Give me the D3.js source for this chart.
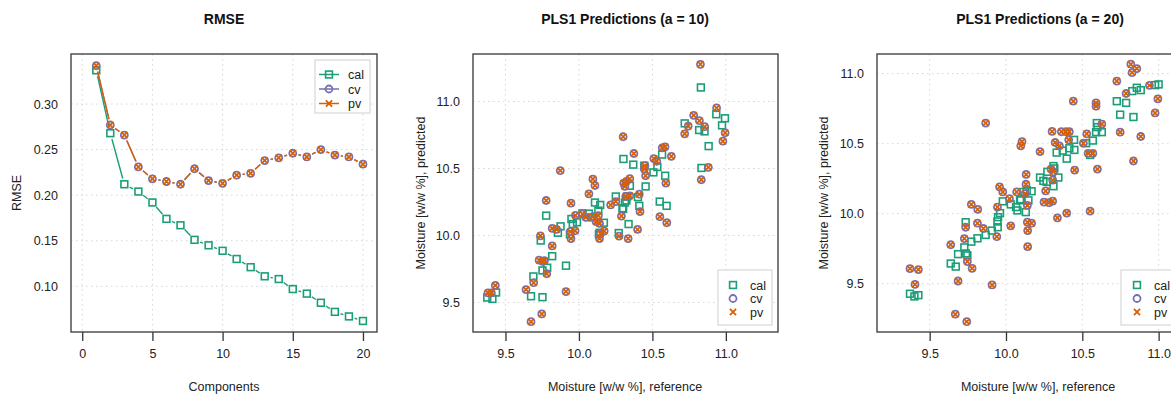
<!DOCTYPE html>
<html>
<head>
<meta charset="utf-8">
<script src="https://cdn.jsdelivr.net/npm/d3@7"></script>
<style>
  body { margin: 0; background: #fff; }
  svg { display: block; }
  text { font-family: "Liberation Sans", Arial, Helvetica, sans-serif; }
</style>
</head>
<body>
<svg id="fig" width="1171" height="395"></svg>
<script>
// ---- RMSE vs number of components ----
const components = [1, 2, 3, 4, 5, 6, 7, 8, 9, 10, 11, 12, 13, 14, 15, 16, 17, 18, 19, 20];
const calRmse = [0.337, 0.268, 0.212, 0.204, 0.192, 0.174, 0.167, 0.151, 0.145, 0.139,
                 0.130, 0.121, 0.111, 0.108, 0.097, 0.092, 0.082, 0.072, 0.067, 0.062];
const cvRmse  = [0.342, 0.277, 0.266, 0.231, 0.218, 0.215, 0.212, 0.229, 0.216, 0.213,
                 0.222, 0.224, 0.238, 0.241, 0.246, 0.242, 0.250, 0.244, 0.242, 0.234];
const pvRmse  = [0.342, 0.277, 0.266, 0.231, 0.218, 0.215, 0.212, 0.229, 0.216, 0.213,
                 0.222, 0.224, 0.238, 0.241, 0.246, 0.242, 0.250, 0.244, 0.242, 0.234];

// ---- predictions, 10 components: [reference, predicted] ----
const cal10 = [
  [9.376, 9.536], [9.411, 9.526], [9.436, 9.574], [9.674, 9.546], [9.690, 9.694], [9.752, 9.539],
  [9.740, 9.962], [9.752, 9.739], [9.784, 9.759], [9.777, 10.148], [9.818, 9.845], [9.857, 10.020],
  [9.875, 10.068], [9.912, 9.774], [9.939, 10.008], [9.949, 10.123], [9.958, 10.085], [9.987, 10.098],
  [10.024, 10.165], [10.068, 10.163], [10.088, 10.135], [10.109, 10.246], [10.132, 10.185], [10.145, 10.228],
  [10.141, 10.020], [10.170, 10.095], [10.136, 10.008], [10.251, 10.291], [10.271, 10.018], [10.303, 10.571],
  [10.296, 10.203], [10.313, 10.246], [10.328, 10.291], [10.338, 10.085], [10.347, 10.371], [10.370, 10.529],
  [10.402, 10.286], [10.411, 10.221], [10.454, 10.366], [10.445, 10.521], [10.507, 10.471], [10.534, 10.511],
  [10.566, 10.604], [10.587, 10.446], [10.550, 10.253], [10.597, 10.221], [10.323, 10.261], [10.301, 10.198],
  [10.720, 10.837], [10.818, 10.787], [10.855, 10.777], [10.883, 10.667], [10.830, 11.105], [10.834, 10.504],
  [10.935, 10.905], [10.974, 10.822], [10.994, 10.875]
];
const pv10 = [
  [9.381, 9.571], [9.404, 9.571], [9.431, 9.627], [9.640, 9.596], [9.692, 9.647], [9.674, 9.356],
  [9.738, 9.997], [9.729, 9.815], [9.752, 9.807], [9.747, 9.414], [9.777, 10.261], [9.781, 9.714],
  [9.765, 9.812], [9.818, 10.053], [9.818, 9.922], [9.848, 10.045], [9.873, 10.484], [9.912, 9.581],
  [9.946, 10.241], [9.941, 10.028], [9.946, 9.977], [9.974, 10.035], [9.976, 10.150], [10.024, 10.160],
  [10.047, 10.135], [10.068, 10.311], [10.095, 10.421], [10.109, 10.373], [10.095, 10.140], [10.117, 10.103],
  [10.140, 10.090], [10.140, 9.977], [10.146, 10.015], [10.132, 10.148], [10.172, 10.033], [10.216, 10.228],
  [10.251, 10.253], [10.273, 9.995], [10.289, 10.145], [10.301, 10.737], [10.305, 10.391], [10.313, 10.366],
  [10.324, 10.404], [10.319, 10.291], [10.335, 9.977], [10.346, 10.424], [10.346, 10.296], [10.374, 10.612],
  [10.399, 10.045], [10.411, 10.308], [10.416, 10.178], [10.445, 10.496], [10.454, 10.446], [10.449, 10.521],
  [10.510, 10.574], [10.530, 10.554], [10.551, 10.140], [10.567, 10.654], [10.586, 10.662], [10.592, 10.391],
  [10.598, 10.095], [10.629, 10.591], [10.720, 10.759], [10.744, 10.817], [10.781, 10.897], [10.820, 10.857],
  [10.827, 11.278], [10.833, 10.416], [10.856, 10.812], [10.881, 10.509], [10.937, 10.952], [10.980, 10.704],
  [10.995, 10.767]
];
const cv10 = pv10;

// ---- predictions, 20 components: [reference, predicted] ----
const cal20 = [
  [9.371, 9.428], [9.400, 9.409], [9.426, 9.418], [9.638, 9.644], [9.671, 9.622], [9.686, 9.711],
  [9.727, 9.759], [9.738, 9.716], [9.747, 9.702], [9.773, 9.800], [9.813, 9.824], [9.736, 9.939],
  [9.867, 9.848], [9.907, 9.879], [9.944, 9.944], [9.946, 9.903], [9.948, 9.975], [9.961, 10.004],
  [9.979, 10.088], [10.031, 10.066], [10.066, 10.047], [10.075, 10.023], [10.097, 10.102], [10.114, 10.155],
  [10.130, 10.011], [10.092, 10.095], [10.136, 10.167], [10.147, 10.095], [10.168, 10.160], [10.223, 10.258],
  [10.245, 10.234], [10.271, 10.299], [10.266, 10.227], [10.311, 10.340], [10.317, 10.323], [10.311, 10.196],
  [10.343, 10.258], [10.332, 10.436], [10.372, 10.450], [10.398, 10.393], [10.415, 10.467], [10.448, 10.455],
  [10.446, 10.527], [10.525, 10.503], [10.551, 10.419], [10.569, 10.522], [10.595, 10.647], [10.599, 10.618],
  [10.590, 10.582], [10.628, 10.582], [10.726, 10.803], [10.787, 10.791], [10.748, 10.707], [10.835, 10.690],
  [10.827, 10.875], [10.857, 10.899], [10.883, 10.882], [10.977, 10.918], [11.000, 10.923]
];
const pv20 = [
  [9.371, 9.608], [9.426, 9.601], [9.404, 9.495], [9.668, 9.282], [9.743, 9.229], [9.686, 9.519],
  [9.909, 9.491], [9.867, 10.647], [9.638, 9.778], [9.727, 9.822], [9.736, 9.903], [9.747, 9.658],
  [9.778, 9.610], [9.773, 10.066], [9.815, 10.030], [9.813, 9.932], [9.852, 9.894], [9.940, 9.836],
  [9.944, 10.047], [9.958, 10.191], [9.979, 10.155], [10.023, 10.107], [10.031, 9.913], [10.070, 10.155],
  [10.097, 10.484], [10.105, 10.515], [10.132, 10.280], [10.131, 10.210], [10.125, 10.143], [10.140, 10.059],
  [10.140, 9.939], [10.168, 9.932], [10.142, 9.879], [10.142, 9.764], [10.223, 10.443], [10.260, 10.162],
  [10.249, 10.083], [10.282, 10.078], [10.306, 10.090], [10.337, 9.970], [10.398, 10.004], [10.302, 10.587],
  [10.363, 10.585], [10.393, 10.585], [10.415, 10.585], [10.322, 10.508], [10.350, 10.484], [10.295, 10.318],
  [10.306, 10.239], [10.311, 10.299], [10.411, 10.527], [10.441, 10.803], [10.450, 10.311], [10.507, 10.503],
  [10.529, 10.570], [10.538, 10.431], [10.569, 10.431], [10.551, 10.018], [10.590, 10.791], [10.590, 10.767],
  [10.628, 10.640], [10.599, 10.318], [10.726, 10.947], [10.748, 10.582], [10.787, 10.858], [10.818, 11.067],
  [10.857, 11.036], [10.826, 11.007], [10.883, 10.551], [10.835, 10.376], [10.940, 10.916], [10.995, 10.820],
  [10.977, 10.719]
];
const cv20 = pv20;

// ---- axis ticks and labels ----
const rmseXTicks = [0, 5, 10, 15, 20];
const rmseYTicks = [0.10, 0.15, 0.20, 0.25, 0.30];
const moistTicks = [9.5, 10.0, 10.5, 11.0];
const seriesNames = ["cal", "cv", "pv"];

const COL = { cal: "#1B9E77", cv: "#7570B3", pv: "#D95F02" };

const svg = d3.select("#fig");

// marker glyphs
function markSquare(g, x, y) {
  g.append("rect").attr("x", x - 3.4).attr("y", y - 3.4).attr("width", 6.8).attr("height", 6.8)
    .attr("fill", "none").attr("stroke", COL.cal).attr("stroke-width", 1.6);
}
function markCircle(g, x, y) {
  g.append("circle").attr("cx", x).attr("cy", y).attr("r", 3.5)
    .attr("fill", "none").attr("stroke", COL.cv).attr("stroke-width", 1.8);
}
function markCross(g, x, y) {
  const s = 3.1;
  g.append("path").attr("d", `M${x - s},${y - s}L${x + s},${y + s}M${x - s},${y + s}L${x + s},${y - s}`)
    .attr("stroke", COL.pv).attr("stroke-width", 1.8).attr("fill", "none");
}
const markers = { cal: markSquare, cv: markCircle, pv: markCross };

// frame, grid, axes and titles of one panel
function panel(o) {
  const x = d3.scaleLinear().domain(o.xDomain).range([o.left, o.left + o.width]);
  const y = d3.scaleLinear().domain(o.yDomain).range([o.top + o.height, o.top]);
  const g = svg.append("g");

  // dotted grid
  g.selectAll(null).data(o.xTicks).join("line")
    .attr("x1", d => x(d)).attr("x2", d => x(d)).attr("y1", o.top).attr("y2", o.top + o.height)
    .attr("stroke", "#d6d6d6").attr("stroke-dasharray", "1.5,3.5").attr("stroke-width", 1);
  g.selectAll(null).data(o.yTicks).join("line")
    .attr("y1", d => y(d)).attr("y2", d => y(d)).attr("x1", o.left).attr("x2", o.left + o.width)
    .attr("stroke", "#d6d6d6").attr("stroke-dasharray", "1.5,3.5").attr("stroke-width", 1);

  // axes
  const ax = g.append("g").attr("transform", `translate(0,${o.top + o.height})`)
    .call(d3.axisBottom(x).tickValues(o.xTicks).tickFormat(o.xFmt).tickSize(9).tickSizeOuter(0).tickPadding(8));
  const ay = g.append("g").attr("transform", `translate(${o.left},0)`)
    .call(d3.axisLeft(y).tickValues(o.yTicks).tickFormat(o.yFmt).tickSize(0).tickSizeOuter(0).tickPadding(13));
  [ax, ay].forEach(a => {
    a.select(".domain").remove();
    a.selectAll("line").attr("stroke", "#333").attr("stroke-width", 1.3);
    a.selectAll("text").attr("font-size", 12.5).attr("fill", "#222")
      .attr("font-family", '"Liberation Sans", Arial, sans-serif');
  });

  // box
  g.append("rect").attr("x", o.left).attr("y", o.top).attr("width", o.width).attr("height", o.height)
    .attr("fill", "none").attr("stroke", "#444").attr("stroke-width", 1.4);

  // titles
  g.append("text").attr("x", o.titleX).attr("y", 24).attr("text-anchor", "middle")
    .attr("font-size", 14).attr("font-weight", "bold").attr("fill", "#111").text(o.title);
  g.append("text").attr("x", o.xLabelX).attr("y", 391).attr("text-anchor", "middle")
    .attr("font-size", 12.5).attr("fill", "#222").text(o.xLabel);
  g.append("text").attr("transform", `translate(${o.yLabelX},${o.top + o.height / 2}) rotate(-90)`)
    .attr("text-anchor", "middle").attr("font-size", 12.5).attr("fill", "#222").text(o.yLabel);

  const clipId = "clip" + Math.round(o.left);
  svg.append("clipPath").attr("id", clipId).append("rect")
    .attr("x", o.left).attr("y", o.top).attr("width", o.width).attr("height", o.height);
  const plot = svg.append("g").attr("clip-path", `url(#${clipId})`);
  return { x, y, plot, g };
}

// connecting line that stops short of each marker
function gappedLine(g, pts, color, gap) {
  for (let i = 1; i < pts.length; i++) {
    const [x1, y1] = pts[i - 1], [x2, y2] = pts[i];
    const L = Math.hypot(x2 - x1, y2 - y1);
    if (L <= 2 * gap) continue;
    const ux = (x2 - x1) / L, uy = (y2 - y1) / L;
    g.append("line")
      .attr("x1", x1 + ux * gap).attr("y1", y1 + uy * gap)
      .attr("x2", x2 - ux * gap).attr("y2", y2 - uy * gap)
      .attr("stroke", color).attr("stroke-width", 1.4);
  }
}

function legend(g, o) {
  g.append("rect").attr("x", o.x).attr("y", o.y).attr("width", o.w).attr("height", o.h)
    .attr("fill", "#fff").attr("stroke", "#cfcfcf").attr("stroke-width", 1);
  seriesNames.forEach((name, i) => {
    const cy = o.y + o.first + i * o.step;
    if (o.lines) {
      g.append("line").attr("x1", o.mx - 10).attr("x2", o.mx + 10).attr("y1", cy).attr("y2", cy)
        .attr("stroke", COL[name]).attr("stroke-width", 1.5);
    }
    markers[name](g, o.mx, cy);
    g.append("text").attr("x", o.tx).attr("y", cy + 4.5).attr("font-size", 12.5).attr("fill", "#222").text(name);
  });
}

// ---------- panel 1: RMSE ----------
{
  const p = panel({
    left: 71, top: 54, width: 306, height: 278,
    xDomain: [-0.8, 21.0], yDomain: [0.0499, 0.3549],
    xTicks: rmseXTicks, yTicks: rmseYTicks,
    xFmt: d3.format("d"), yFmt: d3.format(".2f"),
    title: "RMSE", titleX: 224, xLabel: "Components", xLabelX: 224,
    yLabel: "RMSE", yLabelX: 21
  });
  const series = [["cal", calRmse], ["cv", cvRmse], ["pv", pvRmse]];
  series.forEach(([name, vals]) => {
    const pts = components.map((c, i) => [p.x(c), p.y(vals[i])]);
    gappedLine(p.plot, pts, COL[name], 6);
    pts.forEach(([px, py]) => markers[name](p.plot, px, py));
  });
  legend(p.g, { x: 315, y: 60, w: 55, h: 53, first: 14.5, step: 14.5, mx: 329, tx: 348, lines: true });
}

// ---------- panels 2 and 3: predictions ----------
function predPanel(o, cal, cv, pv) {
  const p = panel(Object.assign({
    xTicks: moistTicks, yTicks: moistTicks,
    xFmt: d3.format(".1f"), yFmt: d3.format(".1f"),
    xLabel: "Moisture [w/w %], reference", yLabel: "Moisture [w/w %], predicted"
  }, o));
  cal.forEach(d => markSquare(p.plot, p.x(d[0]), p.y(d[1])));
  cv.forEach(d => markCircle(p.plot, p.x(d[0]), p.y(d[1])));
  pv.forEach(d => markCross(p.plot, p.x(d[0]), p.y(d[1])));
  return p;
}

{
  const p = predPanel({
    left: 473, top: 54, width: 305, height: 278,
    xDomain: [9.279, 11.355], yDomain: [9.279, 11.355],
    title: "PLS1 Predictions (a = 10)", titleX: 625, xLabelX: 625, yLabelX: 425
  }, cal10, cv10, pv10);
  legend(p.g, { x: 718, y: 270, w: 54, h: 55, first: 15, step: 13.5, mx: 733, tx: 750, lines: false });
}
{
  const p = predPanel({
    left: 877, top: 54, width: 303, height: 278,
    xDomain: [9.155, 11.14], yDomain: [9.155, 11.14],
    title: "PLS1 Predictions (a = 20)", titleX: 1040, xLabelX: 1038, yLabelX: 828
  }, cal20, cv20, pv20);
  legend(p.g, { x: 1121, y: 270, w: 56, h: 55, first: 15, step: 13.5, mx: 1137, tx: 1154, lines: false });
}
</script>
</body>
</html>
